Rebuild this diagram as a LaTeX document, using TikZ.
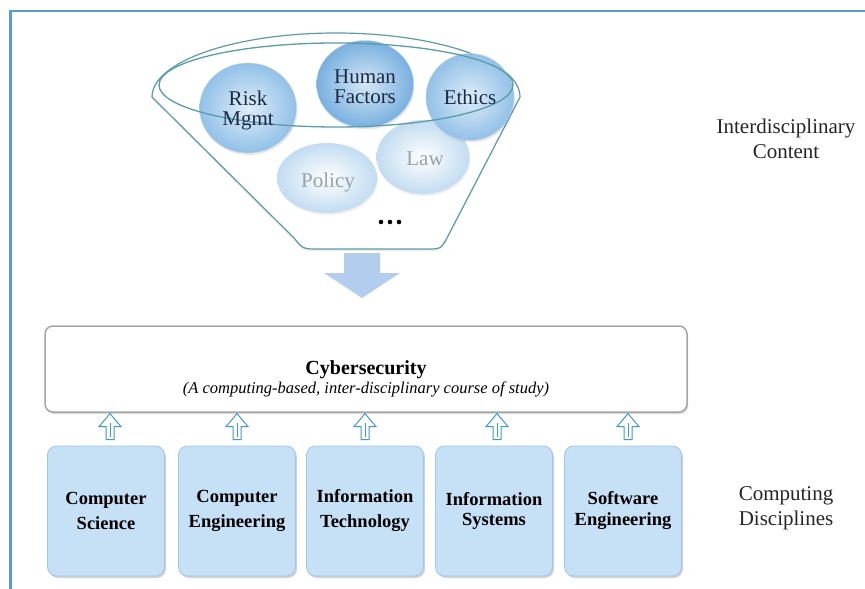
\documentclass[tikz,border=0pt]{standalone}
\usepackage{fontspec}
\setmainfont{Liberation Serif}
\usetikzlibrary{shadows,calc,shapes.geometric}
\definecolor{framec}{HTML}{5B9BD5}
\definecolor{tealc}{HTML}{5A9CA8}
\definecolor{navy}{HTML}{1B2A44}
\definecolor{greyt}{HTML}{98A2AB}
\definecolor{boxfill}{HTML}{C6E0F6}
\definecolor{boxdraw}{HTML}{A3C6E4}
\definecolor{arrc}{HTML}{3D9CC4}
\definecolor{bigarr}{HTML}{B3CDEE}
\definecolor{ballblue}{HTML}{92C1E8}
\definecolor{balldark}{HTML}{78B0E0}
\definecolor{bgreyball}{HTML}{C2DCF1}
\tikzset{
  frameline/.style={draw=framec,line width=2.5pt},
  topball/.style={ellipse,shading=radial,inner color=#1!30!white,outer color=#1,
     draw=#1!80!black!40,line width=0.3pt,
     drop shadow={opacity=0.18,shadow xshift=1pt,shadow yshift=-2pt},
     inner sep=0pt},
  paleball/.style={ellipse,shading=radial,inner color=white,outer color=#1,
     drop shadow={opacity=0.12,shadow xshift=1pt,shadow yshift=-2pt},
     inner sep=0pt},
  discbox/.style={draw=boxdraw,line width=0.8pt,fill=boxfill,rounded corners=9pt,
     minimum width=117pt,minimum height=130pt,
     drop shadow={opacity=0.35,shadow xshift=1.5pt,shadow yshift=-2pt},
     font=\bfseries\fontsize{18.5}{25}\selectfont,align=center,text=black},
  sidelabel/.style={font=\fontsize{21}{25}\selectfont,align=center,text=black!85},
  balltext/.style={text=navy,font=\fontsize{21}{20}\selectfont,align=center},
  paletext/.style={text=greyt,font=\fontsize{21}{20}\selectfont,align=center},
  uparrstyle/.style={draw=arrc,line width=1pt,fill=white,line join=miter},
  pics/uparr/.style={code={
     \draw[uparrstyle] (0,0) -- (-4,0) -- (-4,-13) -- (-11,-13) -- (0,-26) -- (11,-13) -- (4,-13) -- (4,0) -- cycle;
     \draw[arrc,line width=0.6pt] (0,-3) -- (0,-17);
  }}
}
\begin{document}
\begin{tikzpicture}[x=1pt,y=-1pt]
\useasboundingbox (0,0) rectangle (865,589);
\fill[white] (0,0) rectangle (865,589);
% frame
\draw[frameline] (10.5,589) -- (10.5,11) -- (865,11);
% funnel body
\path[fill=white,draw=tealc,line width=1.2pt,line join=round,
      drop shadow={opacity=0.15,shadow xshift=0pt,shadow yshift=-2pt}]
  (152,97) arc[start angle=180,end angle=360,x radius=184,y radius=64]
  -- (448,236) .. controls (441,249) .. (427,249) -- (318,249)
  .. controls (303,249) .. (294,238) -- cycle;
\node[coordinate] (funnelbot) at (362,250) {};
% balls
\node[paleball=bgreyball, minimum width=100pt,minimum height=70pt] (policy) at (327,178) {};
\node[paleball=bgreyball, minimum width=93pt,minimum height=74pt] (law) at (423,157) {};
\node[topball=ballblue, minimum width=97pt,minimum height=90pt] (risk) at (248,108) {};
\node[topball=ballblue, minimum width=88pt,minimum height=87pt] (ethics) at (470,97) {};
\node[topball=balldark, minimum width=97pt,minimum height=87pt] (human) at (365,84) {};
% inner rim
\draw[tealc,line width=1.3pt] (336,85) ellipse[x radius=177,y radius=42];
% labels on balls
\node[balltext] (riskt) at (248,110) {Risk\\Mgmt};
\node[balltext] (humant) at (365,87) {Human\\Factors};
\node[balltext] (ethicst) at (470,97) {Ethics};
\node[paletext] (lawt) at (425,159) {Law};
\node[paletext] (policyt) at (328,182) {Policy};
% dots
\foreach \dx in {-9,0,9} \fill[black] (390+\dx,222) circle (2.3pt);
% big down arrow
\node[coordinate] (cybtop) at (362,298) {};
\fill[bigarr] ($(funnelbot)+(-18,3)$) -- ($(funnelbot)+(18,3)$) -- ($(funnelbot)+(18,23)$) -- ($(funnelbot)+(38,23)$)
  -- (cybtop) -- ($(funnelbot)+(-38,23)$) -- ($(funnelbot)+(-18,23)$) -- cycle;
% cybersecurity box
\node[draw=black!35,line width=1.5pt,fill=white,rounded corners=8pt,minimum width=642pt,minimum height=86pt,
      drop shadow={opacity=0.3,shadow xshift=1pt,shadow yshift=-2pt}] (cyber) at (366,369) {};
\node[font=\bfseries\fontsize{20}{22}\selectfont] (cybt) at (366,370) {Cybersecurity};
\node[font=\itshape\fontsize{16.5}{20}\selectfont] (cybs) at (366,389) {(A computing-based, inter-disciplinary course of study)};
% discipline boxes
\node[discbox] (cs) at (106,511) {Computer\\Science};
\node[discbox] (ce) at (237,511) {Computer\\Engineering};
\node[discbox] (it) at (365,511) {Information\\Technology};
\node[discbox,font=\bfseries\fontsize{18.5}{20}\selectfont] (is) at (494,511) {Information\\Systems};
\node[discbox,font=\bfseries\fontsize{18.5}{21}\selectfont] (se) at (623,511) {Software\\Engineering};
% up arrows
\foreach \b/\dx in {cs/4,ce/0,it/0,is/3,se/5}
  \pic at ($(\b.north)+(\dx,-6)$) {uparr};
% side labels
\node[sidelabel] (inter) at (786,139) {Interdisciplinary\\Content};
\node[sidelabel] (comp) at (786,508) {Computing\\Disciplines};
\end{tikzpicture}
\end{document}
